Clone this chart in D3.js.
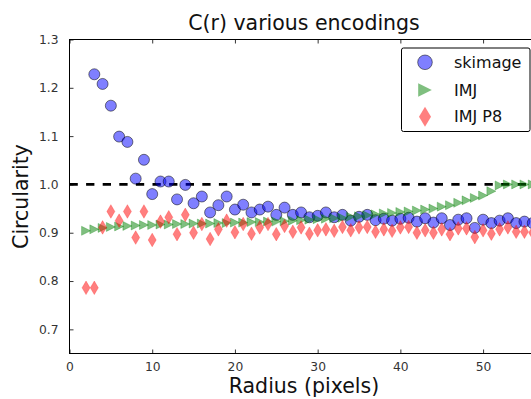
<!DOCTYPE html>
<html><head><meta charset="utf-8">
<script src="https://cdn.jsdelivr.net/npm/d3@7"></script>
<style>
html,body{margin:0;padding:0;background:#fff;overflow:hidden}
text{font-family:"DejaVu Sans",sans-serif}
</style></head>
<body><div id="chart"></div>
<script>
const radii = [2,3,4,5,6,7,8,9,10,11,12,13,14,15,16,17,18,19,20,21,22,23,24,25,26,27,28,29,30,31,32,33,34,35,36,37,38,39,40,41,42,43,44,45,46,47,48,49,50,51,52,53,54,55,56];
const skimage = [null,1.228,1.208,1.163,1.099,1.088,1.012,1.051,0.980,1.006,1.006,0.969,0.999,0.961,0.975,0.942,0.957,0.975,0.948,0.958,0.942,0.948,0.954,0.937,0.952,0.937,0.942,0.932,0.935,0.942,0.932,0.937,0.925,0.933,0.937,0.926,0.929,0.925,0.929,0.931,0.923,0.930,0.921,0.930,0.916,0.927,0.930,0.910,0.927,0.920,0.925,0.930,0.920,0.923,0.920];
const imj = [0.904,0.907,0.910,0.912,0.913,0.914,0.915,0.916,0.916,0.917,0.917,0.918,0.918,0.919,0.919,0.919,0.920,0.920,0.921,0.921,0.922,0.922,0.923,0.923,0.924,0.925,0.926,0.927,0.928,0.929,0.930,0.931,0.933,0.934,0.936,0.938,0.940,0.941,0.943,0.944,0.946,0.948,0.950,0.954,0.957,0.962,0.967,0.972,0.977,0.986,0.998,1.0,1.0,1.0,1.0];
const imjP8 = [0.786,0.786,0.911,0.944,0.925,0.944,0.890,0.944,0.885,0.923,0.932,0.897,0.937,0.900,0.918,0.887,0.907,0.925,0.901,0.918,0.898,0.911,0.918,0.897,0.914,0.902,0.911,0.898,0.905,0.907,0.904,0.912,0.905,0.911,0.912,0.902,0.907,0.904,0.911,0.912,0.900,0.905,0.900,0.907,0.897,0.909,0.909,0.891,0.905,0.898,0.907,0.911,0.902,0.902,0.900];
const seriesNames = ["skimage","IMJ","IMJ P8"];
const xTicks = [0,10,20,30,40,50];
const yTicks = [0.7,0.8,0.9,1.0,1.1,1.2,1.3];
const yTickLabels = ["0.7","0.8","0.9","1.0","1.1","1.2","1.3"];
const refLine = 1.0;

const W = 531, H = 399;
const L = 69.5, R = 538.5, T = 39.5, B = 353.5;
const svg = d3.select("#chart").append("svg").attr("width", W).attr("height", H);
const x = d3.scaleLinear().domain([0, 56.7]).range([L, R]);
const y = d3.scaleLinear().domain([0.65, 1.3]).range([B, T]);

svg.append("line").attr("x1", L).attr("x2", R).attr("y1", y(refLine)).attr("y2", y(refLine))
  .attr("stroke", "#000").attr("stroke-width", 2.8).attr("stroke-dasharray", "8.3,8.3");

function triPath(h){ return `M${h},0L${-h},${-h}L${-h},${h}Z`; }
function diaPath(hw, hh){ return `M0,${-hh}L${hw},0L0,${hh}L${-hw},0Z`; }

const pts = (vals) => radii.map((r,i)=>({r, v: vals[i]})).filter(d => d.v != null);

svg.append("g").selectAll("circle").data(pts(skimage)).join("circle")
  .attr("cx", d => x(d.r)).attr("cy", d => y(d.v)).attr("r", 5.5)
  .attr("fill", "#0000ff").attr("fill-opacity", 0.5)
  .attr("stroke", "#000").attr("stroke-opacity", 0.5).attr("stroke-width", 1);

svg.append("g").selectAll("path").data(pts(imj)).join("path")
  .attr("transform", d => `translate(${x(d.r)},${y(d.v)})`)
  .attr("d", triPath(4.5))
  .attr("fill", "#008000").attr("fill-opacity", 0.5)
  .attr("stroke", "#008000").attr("stroke-opacity", 0.35).attr("stroke-width", 0.8);

svg.append("g").selectAll("path").data(pts(imjP8)).join("path")
  .attr("transform", d => `translate(${x(d.r)},${y(d.v)})`)
  .attr("d", diaPath(4, 6.8))
  .attr("fill", "#ff0000").attr("fill-opacity", 0.5)
  .attr("stroke", "#ff0000").attr("stroke-opacity", 0.3).attr("stroke-width", 0.8);

svg.append("rect").attr("x", L).attr("y", T).attr("width", R - L).attr("height", B - T)
  .attr("fill", "none").attr("stroke", "#000").attr("stroke-width", 1);

const axB = d3.axisBottom(x).tickValues(xTicks).tickSize(-4).tickPadding(9).tickFormat(d3.format("d"));
const gB = svg.append("g").attr("transform", `translate(0,${B})`).call(axB);
const axT = d3.axisTop(x).tickValues(xTicks).tickSize(-4).tickFormat("");
const gT = svg.append("g").attr("transform", `translate(0,${T})`).call(axT);
const axL = d3.axisLeft(y).tickValues(yTicks).tickSize(-4).tickPadding(11).tickFormat((d,i)=>yTickLabels[i]);
const gL = svg.append("g").attr("transform", `translate(${L},0)`).call(axL);
const axR = d3.axisRight(y).tickValues(yTicks).tickSize(-4).tickFormat("");
const gR = svg.append("g").attr("transform", `translate(${R},0)`).call(axR);
[gB,gT,gL,gR].forEach(g => {
  g.select(".domain").remove();
  g.selectAll(".tick line").attr("stroke", "#000").attr("stroke-width", 0.8);
  g.selectAll("text").attr("font-size", 12.3).attr("fill", "#333").attr("font-family", "DejaVu Sans");
});

const cx = (L + R) / 2;
svg.append("text").attr("x", cx).attr("y", 30).attr("text-anchor", "middle")
  .attr("font-size", 20.5).attr("fill", "#111").text("C(r) various encodings");
svg.append("text").attr("x", cx).attr("y", 393).attr("text-anchor", "middle")
  .attr("font-size", 20.5).attr("fill", "#111").text("Radius (pixels)");
svg.append("text").attr("transform", `translate(28,${(T + B) / 2}) rotate(-90)`).attr("text-anchor", "middle")
  .attr("font-size", 20.5).attr("fill", "#111").text("Circularity");

const lg = svg.append("g");
lg.append("rect").attr("x", 401.5).attr("y", 48).attr("width", 128.5).attr("height", 83.5).attr("rx", 2)
  .attr("fill", "#fff").attr("stroke", "#000").attr("stroke-width", 1);
const legY = [62.3, 90, 116.7];
lg.append("circle").attr("cx", 425).attr("cy", legY[0]).attr("r", 7.3)
  .attr("fill", "#0000ff").attr("fill-opacity", 0.5).attr("stroke", "#000").attr("stroke-opacity", 0.5);
lg.append("path").attr("transform", `translate(425,${legY[1]})`).attr("d", triPath(6.8))
  .attr("fill", "#008000").attr("fill-opacity", 0.5);
lg.append("path").attr("transform", `translate(425,${legY[2]})`).attr("d", diaPath(6, 10))
  .attr("fill", "#ff0000").attr("fill-opacity", 0.5);
lg.selectAll("text.lab").data(seriesNames).join("text").attr("class", "lab")
  .attr("x", 454).attr("y", (d,i) => legY[i]).attr("dy", "0.35em")
  .attr("font-size", 16).attr("fill", "#111").text(d => d);
</script>
</body></html>
